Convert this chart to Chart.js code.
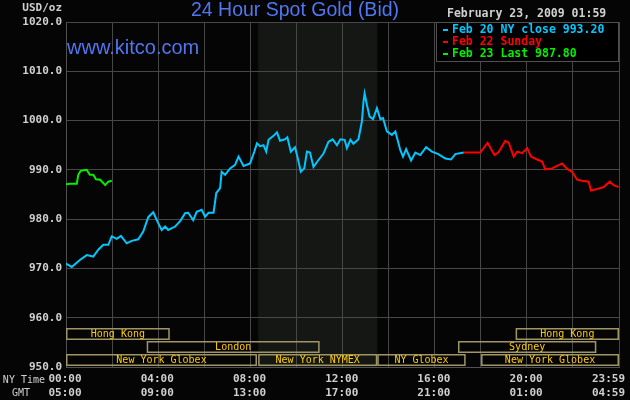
<!DOCTYPE html>
<html>
<head>
<meta charset="utf-8">
<title>24 Hour Spot Gold (Bid)</title>
<script src="https://cdn.jsdelivr.net/npm/chart.js@4"></script>
<style>
  html, body { margin: 0; padding: 0; background: #050505; }
  canvas { display: block; }
</style>
</head>
<body>
<canvas id="goldChart" width="630" height="400"></canvas>
<script>
// times are minutes after 00:00 NY time
const closeTimes = [0, 15, 36, 54, 71, 84, 97, 110, 119, 132, 143, 158, 171, 188, 201, 214, 227, 238, 249, 258,
  266, 284, 297, 310, 318, 331, 340, 353, 362, 371, 384, 391, 401, 405, 414, 427, 440, 449, 462, 479,
  490, 497, 505, 514, 521, 527, 540, 549, 557, 570, 576, 585, 596, 602, 611, 620, 627, 635, 644, 657,
  670, 683, 694, 705, 714, 725, 731, 740, 748, 761, 770, 774, 777, 783, 790, 799, 809, 818, 825, 835,
  848, 857, 870, 877, 885, 898, 909, 922, 937, 952, 969, 987, 1002, 1013, 1035];
const closeValues = [971.0, 970.3, 971.7, 972.7, 972.4, 973.8, 974.8, 974.8, 976.5, 976.0, 976.6, 975.1, 975.6, 975.9, 977.5, 980.4, 981.4, 979.5, 977.8, 978.5,
  977.8, 978.5, 979.6, 981.2, 981.3, 979.8, 981.5, 981.9, 980.5, 981.3, 981.3, 985.3, 986.3, 989.6, 989.0, 990.3, 991.0, 992.7, 990.8, 991.3,
  993.7, 995.4, 994.8, 995.0, 993.7, 996.1, 996.9, 997.6, 995.9, 996.2, 996.6, 993.7, 994.6, 992.7, 989.6, 990.3, 993.7, 993.5, 990.6, 992.0,
  993.3, 995.7, 996.2, 995.0, 996.2, 996.1, 994.4, 996.1, 995.3, 996.2, 999.8, 1003.8, 1005.5, 1003.2, 1000.8, 1000.3, 1002.5, 1000.3, 1000.5, 997.8,
  997.1, 997.8, 994.0, 992.7, 994.2, 991.9, 993.5, 993.0, 994.6, 993.7, 993.2, 992.3, 992.1, 993.2, 993.5];

const sundayTimes = [1035, 1078, 1097, 1115, 1126, 1143, 1152, 1165, 1174, 1187, 1200, 1210, 1226, 1239, 1247,
  1265, 1278, 1291, 1304, 1317, 1330, 1343, 1360, 1366, 1382, 1399, 1415, 1425, 1438];
const sundayValues = [993.5, 993.5, 995.5, 993.0, 993.6, 995.9, 995.5, 992.7, 993.7, 993.4, 994.4, 992.7, 992.1, 991.7, 990.1,
  990.3, 990.8, 991.3, 990.2, 989.6, 988.0, 987.8, 987.6, 985.8, 986.1, 986.5, 987.6, 986.9, 986.5];

const lastTimes = [0, 10, 28, 32, 38, 54, 62, 71, 78, 89, 102, 110, 119];
const lastValues = [987.1, 987.2, 987.2, 989.0, 989.8, 990.0, 989.0, 989.0, 988.1, 988.0, 986.9, 987.6, 987.8];

const legendLabels = ['Feb 20 NY close 993.20', 'Feb 22 Sunday', 'Feb 23 Last 987.80'];
const chartDate = 'February 23, 2009 01:59';

const yTicks = [1020, 1010, 1000, 990, 980, 970, 960, 950];
const xTickTimes = [0, 240, 480, 720, 960, 1200, 1439];
const nyLabels = ['00:00', '04:00', '08:00', '12:00', '16:00', '20:00', '23:59'];
const gmtLabels = ['05:00', '09:00', '13:00', '17:00', '21:00', '01:00', '04:59'];

// trading sessions: lane 0 is the bottom row
const sessionNames = ['Hong Kong', 'London', 'New York Globex', 'New York NYMEX', 'NY Globex', 'New York Globex', 'Sydney', 'Hong Kong'];
const sessionLanes = [2, 1, 0, 0, 0, 0, 1, 2];
const sessionStarts = [0, 210, 0, 500, 810, 1080, 1020, 1170];
const sessionEnds = [270, 660, 497, 810, 1040, 1439, 1380, 1439];
const nymexHours = [500, 810];

const toPoints = (times, values) => times.map((t, i) => ({ x: t, y: values[i] }));

const seriesColors = ['#00c8ff', '#ff0000', '#00f000'];
const MONO = '"DejaVu Sans Mono", "Liberation Mono", monospace';
const SANS = '"Liberation Sans", Arial, sans-serif';

const decor = {
  id: 'decor',
  beforeDraw(chart) {
    const { ctx, chartArea: a, scales: { x } } = chart;
    ctx.save();
    ctx.fillStyle = '#050505';
    ctx.fillRect(0, 0, chart.width, chart.height);
    const x0 = x.getPixelForValue(nymexHours[0]);
    const x1 = x.getPixelForValue(nymexHours[1]);
    ctx.fillStyle = '#141714';
    ctx.fillRect(x0, a.top, x1 - x0, a.bottom - a.top);
    ctx.restore();
  },
  afterDraw(chart) {
    const { ctx, chartArea: a, scales: { x, y } } = chart;
    ctx.save();

    // session bars along the bottom
    const laneH = 13;
    ctx.lineWidth = 1.5;
    ctx.strokeStyle = '#a09664';
    ctx.fillStyle = '#ffcc00';
    ctx.font = '10px ' + MONO;
    ctx.textAlign = 'center';
    ctx.textBaseline = 'middle';
    sessionNames.forEach((name, i) => {
      const x0 = x.getPixelForValue(sessionStarts[i]);
      const x1 = x.getPixelForValue(sessionEnds[i]);
      const bottom = a.bottom - sessionLanes[i] * laneH - 1;
      const top = bottom - laneH + 1;
      ctx.strokeRect(x0 + 0.75, top + 0.75, x1 - x0 - 1.5, laneH - 2.5);
      ctx.fillText(name, (x0 + x1) / 2, top + laneH / 2);
    });

    // legend box
    const lx = 436, ly = a.top;
    ctx.fillStyle = '#000';
    ctx.fillRect(lx, ly, a.right - lx, 39);
    ctx.strokeStyle = '#505050';
    ctx.lineWidth = 1;
    ctx.strokeRect(lx + 0.5, ly + 0.5, a.right - lx - 1, 39);
    ctx.font = 'bold 11.5px ' + MONO;
    ctx.textAlign = 'left';
    legendLabels.forEach((label, i) => {
      ctx.fillStyle = seriesColors[i];
      ctx.fillRect(lx + 7, ly + 7 + i * 12, 5, 2);
      ctx.fillText(label, lx + 16, ly + 8 + i * 12);
    });

    // title and site name
    ctx.fillStyle = '#5077f0';
    ctx.font = '19.5px ' + SANS;
    ctx.textAlign = 'center';
    ctx.fillText('24 Hour Spot Gold (Bid)', 295, 11);
    ctx.textAlign = 'left';
    ctx.font = '20px ' + SANS;
    ctx.fillText('www.kitco.com', 67, 48);

    // date
    ctx.fillStyle = '#d0d0d0';
    ctx.font = 'bold 11.5px ' + MONO;
    ctx.fillText(chartDate, 447, 14);

    // y labels
    ctx.font = 'bold 11px ' + MONO;
    ctx.textAlign = 'right';
    yTicks.forEach(v => ctx.fillText(v.toFixed(1), a.left - 4, y.getPixelForValue(v)));
    ctx.fillText('USD/oz', 62, 8);

    // x labels, NY time and GMT
    ctx.textAlign = 'center';
    xTickTimes.forEach((t, i) => {
      const w = ctx.measureText(nyLabels[i]).width;
      const cx = Math.min(x.getPixelForValue(t) - 1, chart.width - 5 - w / 2);
      ctx.fillText(nyLabels[i], cx, a.bottom + 12);
      ctx.fillText(gmtLabels[i], cx, a.bottom + 26);
    });
    ctx.font = '10px ' + MONO;
    ctx.textAlign = 'right';
    ctx.fillText('NY Time', 45, a.bottom + 13);
    ctx.fillText('GMT', 30, a.bottom + 26);

    ctx.restore();
  }
};

new Chart(document.getElementById('goldChart'), {
  type: 'line',
  data: {
    datasets: [
      { label: legendLabels[0], data: toPoints(closeTimes, closeValues), borderColor: seriesColors[0] },
      { label: legendLabels[1], data: toPoints(sundayTimes, sundayValues), borderColor: seriesColors[1] },
      { label: legendLabels[2], data: toPoints(lastTimes, lastValues), borderColor: seriesColors[2] }
    ]
  },
  options: {
    responsive: false,
    animation: false,
    layout: { padding: { left: 66, top: 22, right: 11, bottom: 33 } },
    elements: {
      line: { borderWidth: 2, tension: 0 },
      point: { radius: 0 }
    },
    plugins: { legend: { display: false }, tooltip: { enabled: false } },
    scales: {
      x: {
        type: 'linear', min: 0, max: 1439,
        ticks: { display: false, stepSize: 120 },
        grid: { color: '#474747', drawTicks: false },
        border: { color: '#505050' }
      },
      y: {
        min: 950, max: 1020,
        ticks: { display: false, stepSize: 10 },
        grid: { color: '#474747', drawTicks: false },
        border: { color: '#505050' }
      }
    }
  },
  plugins: [decor]
});
</script>
</body>
</html>
